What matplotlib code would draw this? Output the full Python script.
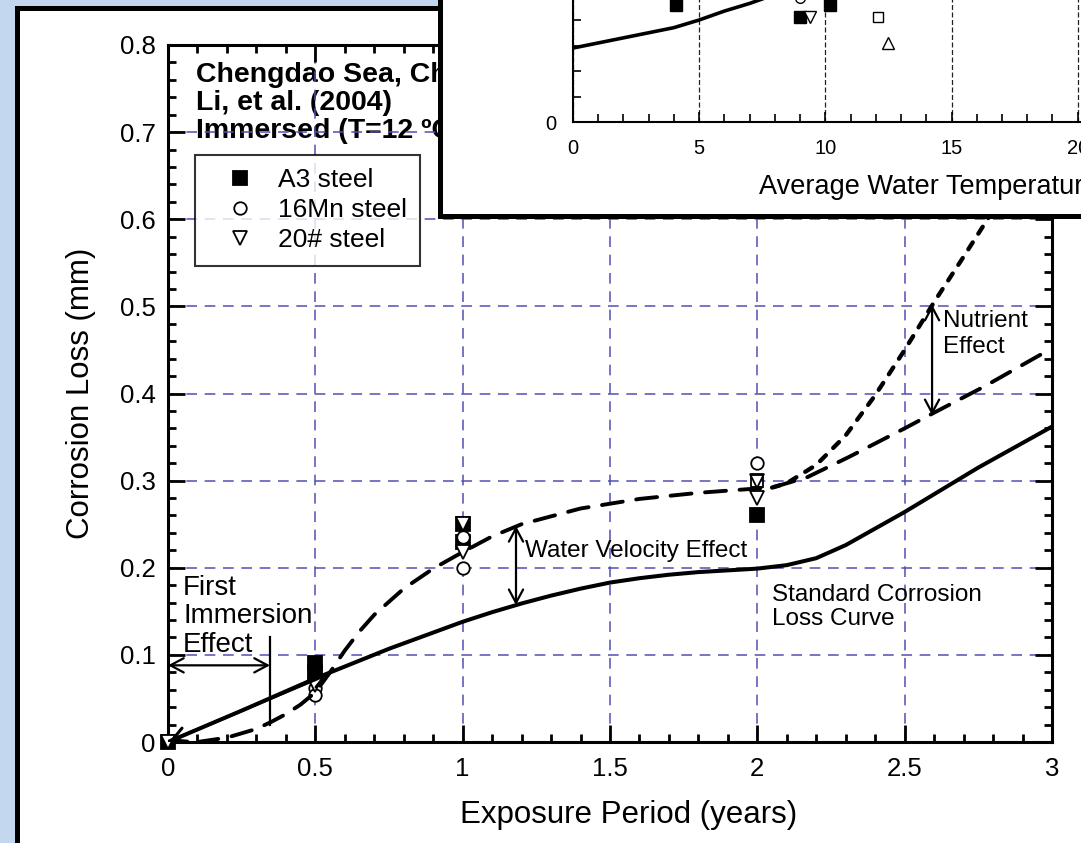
import matplotlib
matplotlib.use("Agg")
import matplotlib.pyplot as plt
from matplotlib.patches import Rectangle
from matplotlib.ticker import MultipleLocator, FixedLocator, FuncFormatter

plt.rcParams['font.family'] = ['Liberation Sans', 'DejaVu Sans']

# ---------------- main chart data ----------------
std_years = [0, 0.25, 0.5, 0.75, 1.0, 1.1, 1.2, 1.3, 1.4, 1.5, 1.6, 1.7, 1.8, 1.9, 2.0,
             2.1, 2.2, 2.3, 2.4, 2.5, 2.75, 3.0]
std_loss = [0, 0.036, 0.073, 0.107, 0.138, 0.149, 0.159, 0.168, 0.176, 0.183, 0.188, 0.192, 0.195,
            0.197, 0.199, 0.203, 0.211, 0.226, 0.245, 0.264, 0.315, 0.362]

vel_years = [0.1, 0.2, 0.3, 0.35, 0.4, 0.45, 0.5, 0.55, 0.6, 0.65, 0.7, 0.8, 0.9, 1.0, 1.1, 1.2,
             1.4, 1.6, 1.8, 2.0, 2.06, 2.17, 2.31, 2.5, 2.6, 2.77, 3.0]
vel_loss = [0.0, 0.005, 0.015, 0.023, 0.032, 0.043, 0.057, 0.08, 0.105, 0.127, 0.146, 0.176, 0.199, 0.218,
            0.236, 0.25, 0.268, 0.279, 0.286, 0.291, 0.293, 0.304, 0.327, 0.36, 0.378, 0.408, 0.452]

nut_years = [2.05, 2.1, 2.2, 2.3, 2.4, 2.5, 2.6, 2.7, 2.8, 2.9]
nut_loss = [0.292, 0.297, 0.318, 0.352, 0.398, 0.45, 0.505, 0.557, 0.61, 0.665]

a3_years = [0, 0.5, 0.5, 1, 1, 2]
a3_loss = [0, 0.091, 0.080, 0.25, 0.23, 0.26]
mn16_years = [0.5, 0.5, 1, 1, 2]
mn16_loss = [0.062, 0.054, 0.235, 0.20, 0.32]
s20_years = [0, 0.5, 1, 1, 2, 2]
s20_loss = [0, 0.065, 0.25, 0.218, 0.30, 0.28]
other_years = [2]
other_loss = [0.30]

x_ticks = [0, 0.5, 1, 1.5, 2, 2.5, 3]
y_ticks = [0, 0.1, 0.2, 0.3, 0.4, 0.5, 0.6, 0.7, 0.8]

# ---------------- inset data ----------------
temp_curve = [0, 1, 2, 3, 4, 5, 6, 7, 8, 9, 10]
rate_curve = [0.058, 0.062, 0.066, 0.070, 0.074, 0.080, 0.087, 0.093, 0.100, 0.107, 0.115]
inset_fsq_t = [4.1, 10.2, 9.0]
inset_fsq_r = [0.0918, 0.0918, 0.082]
inset_osq_t = [12.1]
inset_osq_r = [0.082]
inset_tdn_t = [9.4]
inset_tdn_r = [0.082]
inset_tup_t = [12.5]
inset_tup_r = [0.062]
inset_cir_t = [9.0]
inset_cir_r = [0.097]
inset_x_ticks = [0, 5, 10, 15, 20, 25, 30]
inset_y_ticks = [0]

W, H = 1081, 843
fig = plt.figure(figsize=(W / 100, H / 100), dpi=100, facecolor='#c3d8ef')


def fx(px):
    return px / W


def fy(py):
    return 1 - py / H


# outer white panel with thick black frame
fig.add_artist(Rectangle((fx(16.5), -0.5), 2, fy(7.5) + 0.5, transform=fig.transFigure,
                         fc='white', ec='black', lw=3.6, zorder=0.2))

ax = fig.add_axes([fx(168), fy(742), 884 / W, 697 / H], zorder=1)
ax.set_xlim(0, 3)
ax.set_ylim(0, 0.8)
ax.xaxis.set_major_locator(FixedLocator(x_ticks))
ax.yaxis.set_major_locator(FixedLocator(y_ticks))
ax.xaxis.set_minor_locator(MultipleLocator(0.1))
ax.yaxis.set_minor_locator(MultipleLocator(0.02))
fmt = FuncFormatter(lambda v, p: '%g' % round(v, 3))
ax.xaxis.set_major_formatter(fmt)
ax.yaxis.set_major_formatter(fmt)
ax.tick_params(which='both', direction='in', top=True, right=True, width=2, colors='black')
ax.tick_params(which='major', length=12, labelsize=18.5)
ax.tick_params(axis='x', which='major', pad=11)
ax.tick_params(axis='y', which='major', pad=9)
ax.tick_params(which='minor', length=6)
for s in ax.spines.values():
    s.set_linewidth(2.2)
ax.grid(which='major', color='#4f4fb4', lw=1.1, linestyle=(0, (7, 5)))

ax.set_xlabel('Exposure Period (years)', fontsize=22.5)
ax.xaxis.set_label_coords(0.5215, -0.083)
ax.set_ylabel('Corrosion Loss (mm)', fontsize=22.5)
ax.yaxis.set_label_coords(-0.082, 0.5)

# data markers
mk = dict(ls='none', mec='black', mew=1.3, zorder=3, clip_on=False)
ax.plot(a3_years, a3_loss, marker='s', ms=10, mfc='black', label='A3 steel', **mk)
ax.plot(mn16_years, mn16_loss, marker='o', ms=9, mfc='white', label='16Mn steel', **mk)
ax.plot(s20_years, s20_loss, marker='v', ms=9.5, mfc='white', label='20# steel', **mk)
ax.plot(other_years, other_loss, marker='s', ms=9, mfc='none', **mk)

# curves
ax.plot(std_years, std_loss, color='black', lw=2.9, zorder=4, solid_capstyle='round')
ax.plot(vel_years, vel_loss, color='black', lw=2.8, zorder=4, linestyle=(0, (5.4, 3.5)),
        dash_capstyle='round')
ax.plot(nut_years, nut_loss, color='black', lw=3.1, zorder=4, linestyle=(0, (1.9, 2.4)),
        dash_capstyle='round')

leg = ax.legend(loc='upper left', bbox_to_anchor=(0.0305, 0.842), borderaxespad=0,
                fontsize=19, frameon=True, fancybox=False, edgecolor='black',
                borderpad=0.5, handlelength=2.4, handletextpad=0.25, labelspacing=0.23)
leg.get_frame().set_linewidth(1.5)
leg.set_zorder(5)

# header text
ax.text(0.095, 0.7577, 'Chengdao Sea, China', fontsize=20.5, fontweight='bold', zorder=1)
ax.text(0.095, 0.7256, 'Li, et al. (2004)', fontsize=20.5, fontweight='bold', zorder=1)
ax.text(0.095, 0.6934, 'Immersed (T=12 ºC)', fontsize=20.5, fontweight='bold', zorder=1)

# annotations
arr = dict(arrowstyle='<->,head_length=0.6,head_width=0.32', lw=1.6, color='black',
           shrinkA=0, shrinkB=0, mutation_scale=16)
# first immersion
ax.annotate('', xy=(0.0, 0.088), xytext=(0.346, 0.088), arrowprops=arr)
ax.plot([0.346, 0.346], [0.02, 0.12], color='black', lw=1.6, zorder=4)
ax.annotate('', xy=(0.005, 0.001), xytext=(0.545, 0.078), arrowprops=dict(arr, lw=2.2), zorder=4)
ax.text(0.051, 0.1688, 'First', fontsize=20)
ax.text(0.051, 0.1366, 'Immersion', fontsize=20)
ax.text(0.051, 0.1033, 'Effect', fontsize=20)
# water velocity
ax.annotate('', xy=(1.181, 0.248), xytext=(1.181, 0.157), arrowprops=arr)
ax.text(1.21, 0.219, 'Water Velocity Effect', fontsize=17.5, va='center')
# nutrient
ax.annotate('', xy=(2.593, 0.502), xytext=(2.593, 0.375), arrowprops=arr)
ax.text(2.63, 0.476, 'Nutrient', fontsize=17.5)
ax.text(2.63, 0.446, 'Effect', fontsize=17.5)
# standard curve
ax.text(2.05, 0.162, 'Standard Corrosion', fontsize=17.5)
ax.text(2.05, 0.134, 'Loss Curve', fontsize=17.5)

# ---------------- inset ----------------
fig.add_artist(Rectangle((fx(439.5), fy(215.5)), 2, 2, transform=fig.transFigure,
                         fc='white', ec='black', lw=3.6, zorder=5))
axi = fig.add_axes([fx(573), fy(122), 757 / W, 255 / H], zorder=6)
axi.set_xlim(0, 30)
axi.set_ylim(0, 0.2)
axi.xaxis.set_major_locator(FixedLocator(inset_x_ticks))
axi.xaxis.set_minor_locator(MultipleLocator(1))
axi.yaxis.set_major_locator(FixedLocator(inset_y_ticks))
axi.yaxis.set_minor_locator(MultipleLocator(0.02))
axi.xaxis.set_major_formatter(fmt)
axi.yaxis.set_major_formatter(fmt)
axi.tick_params(which='both', direction='in', width=1.2, labelsize=14.5)
axi.tick_params(which='major', length=7)
axi.tick_params(which='minor', length=6)
axi.tick_params(axis='x', pad=12)
axi.tick_params(axis='y', pad=12)
for s in axi.spines.values():
    s.set_linewidth(1.5)
axi.grid(axis='x', which='major', color='#222222', lw=0.9, linestyle=(0, (4, 2)))
axi.set_xlabel('Average Water Temperature (°C)', fontsize=19.5)
axi.xaxis.set_label_coords(0.507, -0.205)

axi.plot(temp_curve, rate_curve, color='black', lw=2.6, zorder=3)
mki = dict(ls='none', mec='black', mew=1.0, zorder=4, clip_on=False)
axi.plot(inset_fsq_t, inset_fsq_r, marker='s', ms=8, mfc='black', **mki)
axi.plot(inset_osq_t, inset_osq_r, marker='s', ms=7, mfc='white', **mki)
axi.plot(inset_tdn_t, inset_tdn_r, marker='v', ms=8, mfc='white', **mki)
axi.plot(inset_tup_t, inset_tup_r, marker='^', ms=8, mfc='white', **mki)
axi.plot(inset_cir_t, inset_cir_r, marker='o', ms=7, mfc='white', **mki)

fig.savefig('out.png', dpi=100, facecolor=fig.get_facecolor())
